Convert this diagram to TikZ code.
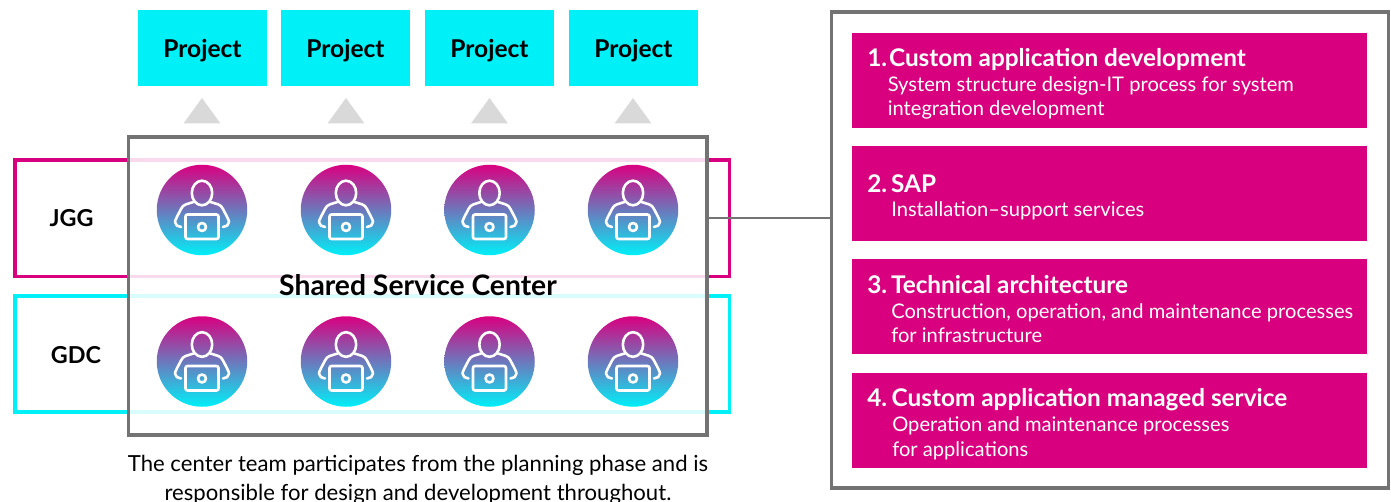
\documentclass[tikz,border=0pt]{standalone}
\usepackage{fontspec}
\setmainfont{Lato}
\definecolor{mag}{HTML}{D90080}
\definecolor{cy}{HTML}{00F0F8}
\definecolor{gr}{HTML}{737373}
\definecolor{tri}{HTML}{D9D9D9}
\tikzset{
 projbox/.style={fill=cy,minimum width=129*0.75pt,minimum height=76*0.75pt,inner sep=0pt},
 projtext/.style={anchor=base,inner sep=0pt,font=\fontsize{18.4}{22}\selectfont\bfseries},
 tribox/.style={fill=tri,draw=none},
 pinkbox/.style={fill=mag,minimum width=515*0.75pt,minimum height=95*0.75pt,inner sep=0pt},
 head/.style={anchor=base west,text=white,inner sep=0pt,font=\fontsize{18.25}{22}\selectfont\bfseries},
 sub/.style={anchor=base west,text=white,inner sep=0pt,font=\fontsize{15.1}{18}\selectfont},
 group/.style={line width=3.6*0.75pt,minimum width=714.5*0.75pt,minimum height=116.5*0.75pt,inner sep=0pt},
 iconline/.style={draw=white,line width=2.6*0.75pt,line cap=round,line join=round},
 lab/.style={anchor=base,font=\fontsize{17.5}{20}\selectfont\bfseries,inner sep=0pt},
 foot/.style={anchor=base,inner sep=0pt,font=\fontsize{16.6}{20}\selectfont}
}
\newcommand{\personicon}[3]{%
 \node[circle,minimum size=90.5*0.75pt,inner sep=0pt,top color=mag,bottom color=cy,shading angle=0] (#3) at (#1,#2) {};
 \begin{scope}[shift={(#1,#2)}]
  \draw[iconline] (0,-17) ellipse [x radius=10.2,y radius=12.3];
  \draw[iconline] (-8.5,-8) .. controls (-14,-6) and (-19,-6) .. (-21,-1) .. controls (-24,5) and (-27,10) .. (-27,12) .. controls (-27,15) and (-24,17) .. (-21,17);
  \draw[iconline] (8.5,-8) .. controls (14,-6) and (19,-6) .. (21,-1) .. controls (24,5) and (27,10) .. (27,12) .. controls (27,15) and (24,17) .. (21,17);
  \draw[iconline,rounded corners=1.5pt] (-16.5,4.5) rectangle (16.5,29);
  \draw[iconline] (0,17) circle [radius=4];
 \end{scope}}
\begin{document}
\begin{tikzpicture}[x=0.75pt,y=-0.75pt]
\useasboundingbox (0,0) rectangle (1391,502);
% project boxes
\foreach \i/\x in {1/202.5,2/345.5,3/489.5,4/633.5}{
  \node[projbox] (p\i) at (\x,48) {};
  \node[projtext] (pt\i) at (\x,57.5) {Project};
}
\foreach \x in {202,346,489.5,633}
  \fill[tribox] (\x-18.5,123.5) -- (\x,98) -- (\x+18.5,123.5) -- cycle;
% group frames
\node[group,draw=mag] (jgg) at (372.2,218.2) {};
\node[group,draw=cy] (gdc) at (372.2,354) {};
% shared centre
\node[draw=gr,line width=3.8*0.75pt,fill=white,fill opacity=.85,minimum width=578.5*0.75pt,minimum height=298*0.75pt,inner sep=0pt] (ssc) at (417.8,286) {};
\node[lab,font=\fontsize{21.2}{24}\selectfont\bfseries] (ssctext) at (418,296) {Shared Service Center};
\node[lab] (jggt) at (71.5,227) {JGG};
\node[lab] (gdct) at (76,363) {GDC};
\foreach \i/\x in {1/202,2/346,3/489.5,4/633}{
  \personicon{\x}{210}{ua\i}
  \personicon{\x}{361.5}{ub\i}
}
% right frame
\node[draw=gr,line width=3.8*0.75pt,minimum width=557*0.75pt,minimum height=476*0.75pt,inner sep=0pt] (rf) at (1110,250) {};
\coordinate (cs) at (ssc.east |- 0,218);
\draw[draw=gr,line width=2*0.75pt] (cs) -- (rf.west |- cs);
\node[pinkbox] (b1) at (1109.5,80.5) {};
\node[pinkbox] (b2) at (1109.5,193.5) {};
\node[pinkbox] (b3) at (1109.5,306.5) {};
\node[pinkbox] (b4) at (1109.5,420.5) {};
\node[head] (h1) at (867,67) {1.\hspace{-4.5pt} Custom application development};
\node[sub] (s1a) at (887.5,92) {System structure design-IT process for system};
\node[sub] (s1b) at (887.5,116) {integration development};
\node[head] (h2) at (867,193) {2.\hspace{-3pt} SAP};
\node[sub] (s2a) at (891,217) {Installation–support services};
\node[head] (h3) at (867,293.5) {3.\hspace{-3pt} Technical architecture};
\node[sub] (s3a) at (891,318) {Construction, operation, and maintenance processes};
\node[sub] (s3b) at (891,342) {for infrastructure};
\node[head] (h4) at (867,406) {4.\hspace{-2.5pt} Custom application managed service};
\node[sub] (s4a) at (892,431) {Operation and maintenance processes};
\node[sub] (s4b) at (892,456) {for applications};
\node[foot] (c1) at (418,471) {The center team participates from the planning phase and is};
\node[foot] (c2) at (418,500) {responsible for design and development throughout.};
\end{tikzpicture}
\end{document}
